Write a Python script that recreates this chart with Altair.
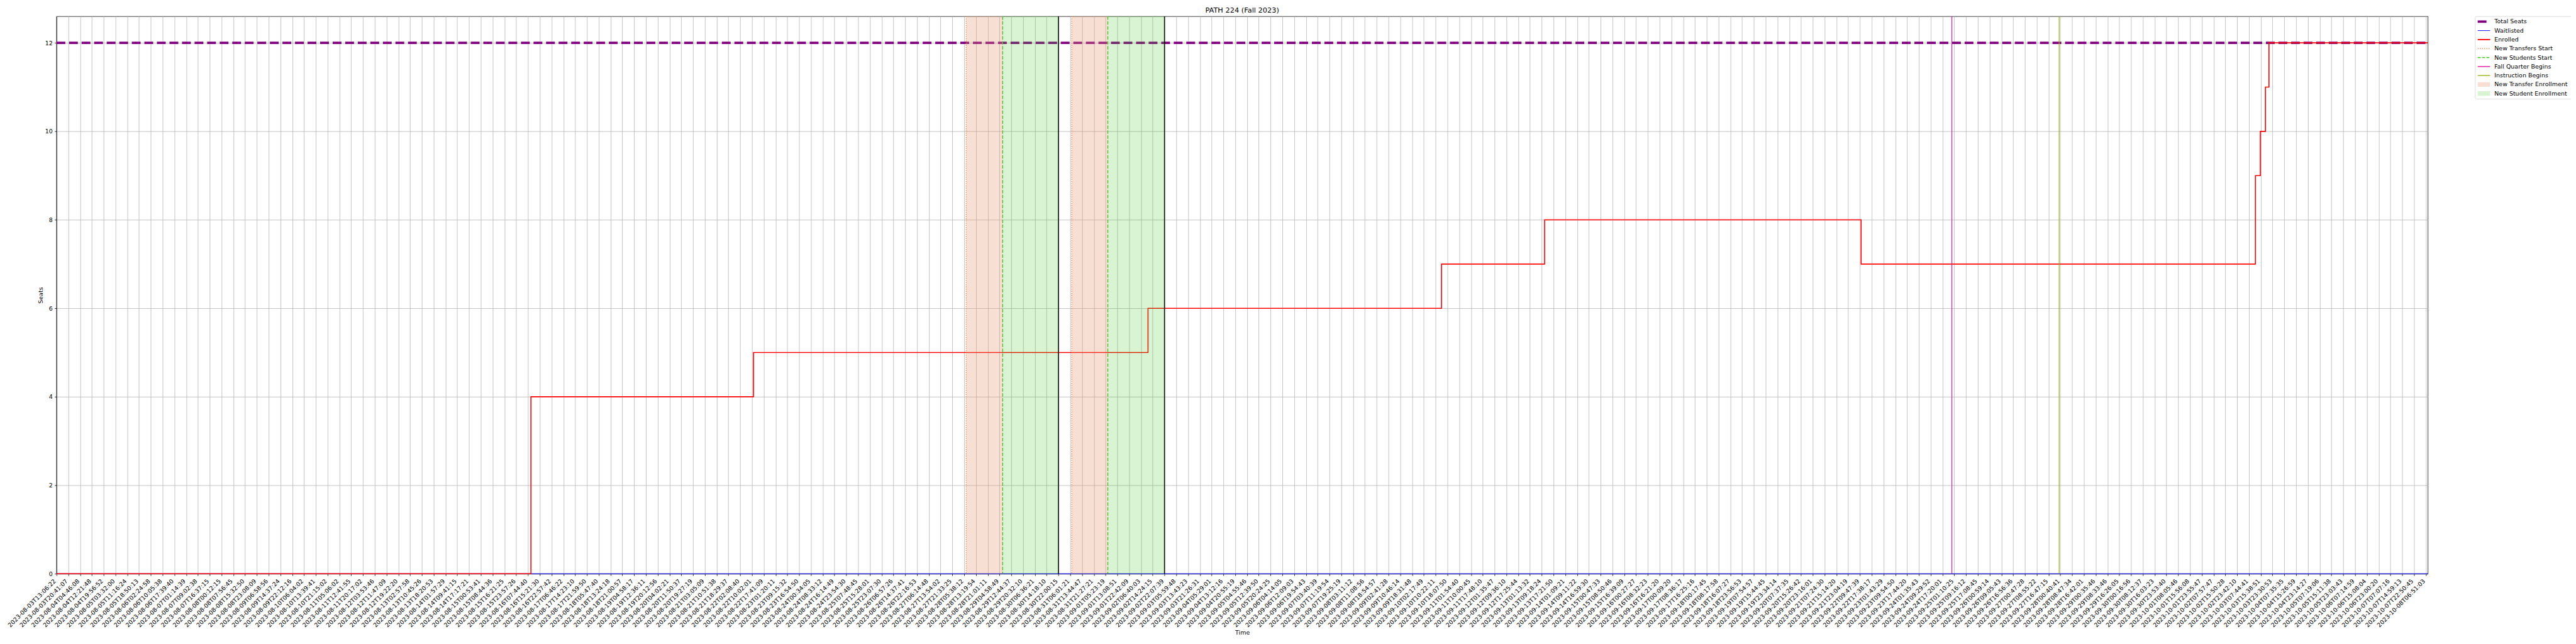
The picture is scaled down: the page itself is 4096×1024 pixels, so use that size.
import altair as alt
import pandas as pd

# ---------------- data ----------------
tick_labels = [
    "2023-08-03T13:06:22", "2023-08-03T20:41:07", "2023-08-04T04:46:08", "2023-08-04T12:21:48",
    "2023-08-04T19:56:52", "2023-08-05T03:32:00", "2023-08-05T11:16:24", "2023-08-05T18:50:13",
    "2023-08-06T02:24:58", "2023-08-06T10:05:38", "2023-08-06T17:39:40", "2023-08-07T01:14:39",
    "2023-08-07T09:02:38", "2023-08-07T16:37:15", "2023-08-08T00:12:15", "2023-08-08T07:56:45",
    "2023-08-08T15:32:50", "2023-08-08T23:08:09", "2023-08-09T06:58:56", "2023-08-09T14:37:24",
    "2023-08-09T22:12:16", "2023-08-10T06:04:02", "2023-08-10T13:39:41", "2023-08-10T21:15:02",
    "2023-08-11T05:06:02", "2023-08-11T12:41:55", "2023-08-11T20:17:02", "2023-08-12T03:53:46",
    "2023-08-12T11:47:09", "2023-08-12T19:22:20", "2023-08-13T02:57:58", "2023-08-13T10:45:26",
    "2023-08-13T18:20:53", "2023-08-14T01:57:29", "2023-08-14T09:41:15", "2023-08-14T17:17:21",
    "2023-08-15T00:53:41", "2023-08-15T08:44:36", "2023-08-15T16:21:25", "2023-08-15T23:57:26",
    "2023-08-16T07:44:40", "2023-08-16T15:21:30", "2023-08-16T22:57:42", "2023-08-17T06:46:22",
    "2023-08-17T14:23:10", "2023-08-17T21:59:50", "2023-08-18T05:47:40", "2023-08-18T13:24:18",
    "2023-08-18T21:00:57", "2023-08-19T04:58:17", "2023-08-19T12:36:11", "2023-08-19T20:12:56",
    "2023-08-20T04:02:21", "2023-08-20T11:50:37", "2023-08-20T19:27:19", "2023-08-21T03:05:09",
    "2023-08-21T10:51:38", "2023-08-21T18:29:37", "2023-08-22T02:08:40", "2023-08-22T10:02:01",
    "2023-08-22T17:41:09", "2023-08-23T01:20:11", "2023-08-23T09:15:32", "2023-08-23T16:54:50",
    "2023-08-24T00:34:05", "2023-08-24T08:33:12", "2023-08-24T16:14:49", "2023-08-24T23:54:30",
    "2023-08-25T07:48:45", "2023-08-25T15:28:01", "2023-08-25T23:07:30", "2023-08-26T06:57:26",
    "2023-08-26T14:37:41", "2023-08-26T22:16:53", "2023-08-27T06:14:48", "2023-08-27T13:54:02",
    "2023-08-27T21:33:25", "2023-08-28T05:38:12", "2023-08-28T13:19:54", "2023-08-28T21:01:11",
    "2023-08-29T04:58:49", "2023-08-29T12:44:37", "2023-08-29T20:32:10", "2023-08-30T06:36:21",
    "2023-08-30T14:18:10", "2023-08-30T22:00:15", "2023-08-31T06:01:21", "2023-08-31T13:44:47",
    "2023-08-31T21:27:21", "2023-09-01T05:23:19", "2023-09-01T13:08:51", "2023-09-01T22:42:09",
    "2023-09-02T06:40:03", "2023-09-02T14:24:15", "2023-09-02T22:07:39", "2023-09-03T05:59:48",
    "2023-09-03T13:43:23", "2023-09-03T21:26:31", "2023-09-04T05:29:01", "2023-09-04T13:12:16",
    "2023-09-04T20:55:19", "2023-09-05T04:55:46", "2023-09-05T12:39:50", "2023-09-05T20:24:25",
    "2023-09-06T04:14:05", "2023-09-06T12:09:03", "2023-09-06T19:54:43", "2023-09-07T03:40:39",
    "2023-09-07T11:19:54", "2023-09-07T19:25:19", "2023-09-08T03:11:12", "2023-09-08T11:08:56",
    "2023-09-08T18:54:57", "2023-09-09T02:41:28", "2023-09-09T10:46:14", "2023-09-09T18:31:48",
    "2023-09-10T02:17:49", "2023-09-10T10:22:11", "2023-09-10T18:07:50", "2023-09-11T01:54:40",
    "2023-09-11T10:00:45", "2023-09-11T17:48:10", "2023-09-12T01:35:47", "2023-09-12T09:36:10",
    "2023-09-12T17:25:44", "2023-09-13T01:13:32", "2023-09-13T09:18:24", "2023-09-13T17:21:50",
    "2023-09-14T01:09:21", "2023-09-14T09:11:22", "2023-09-14T16:59:30", "2023-09-15T00:47:33",
    "2023-09-15T08:50:46", "2023-09-15T16:39:09", "2023-09-16T00:27:27", "2023-09-16T08:32:23",
    "2023-09-16T16:21:20", "2023-09-17T00:09:20", "2023-09-17T08:36:17", "2023-09-17T16:25:16",
    "2023-09-18T00:17:45", "2023-09-18T08:17:58", "2023-09-18T16:07:27", "2023-09-18T23:56:53",
    "2023-09-19T07:54:57", "2023-09-19T15:44:45", "2023-09-19T23:34:14", "2023-09-20T07:37:35",
    "2023-09-20T15:26:42", "2023-09-20T23:16:01", "2023-09-21T07:24:30", "2023-09-21T15:14:20",
    "2023-09-21T23:04:19", "2023-09-22T09:47:39", "2023-09-22T17:38:17", "2023-09-23T01:43:29",
    "2023-09-23T09:54:50", "2023-09-23T17:44:20", "2023-09-24T01:35:43", "2023-09-24T09:29:52",
    "2023-09-24T17:20:01", "2023-09-25T01:10:25", "2023-09-25T09:16:12", "2023-09-25T17:08:45",
    "2023-09-26T00:59:14", "2023-09-26T09:05:43", "2023-09-26T16:56:36", "2023-09-27T00:47:28",
    "2023-09-27T08:55:22", "2023-09-27T16:47:15", "2023-09-28T00:40:41", "2023-09-28T08:47:34",
    "2023-09-28T16:42:01", "2023-09-29T00:35:46", "2023-09-29T08:33:46", "2023-09-29T16:26:05",
    "2023-09-30T00:16:56", "2023-09-30T08:12:37", "2023-09-30T16:03:23", "2023-09-30T23:53:40",
    "2023-10-01T08:05:46", "2023-10-01T15:56:08", "2023-10-01T23:55:47", "2023-10-02T07:57:47",
    "2023-10-02T15:50:28", "2023-10-02T23:42:10", "2023-10-03T07:44:41", "2023-10-03T15:38:51",
    "2023-10-03T23:30:53", "2023-10-04T07:35:35", "2023-10-04T15:26:59", "2023-10-04T23:14:27",
    "2023-10-05T07:19:06", "2023-10-05T15:11:38", "2023-10-05T23:03:43", "2023-10-06T07:14:59",
    "2023-10-06T15:08:04", "2023-10-06T23:00:20", "2023-10-07T07:07:16", "2023-10-07T14:59:13",
    "2023-10-07T22:50:45", "2023-10-08T06:51:03",
]

title_text = "PATH 224 (Fall 2023)"

# x positions are in units of tick index (ticks are evenly spaced samples)
x_last = 201.18
y_top = 12.6

total_x = [0, x_last]
total_y = [12, 12]
wait_x = [0, x_last]
wait_y = [0, 0]
enrolled_x = [0, 40.25, 59.13, 92.6, 117.5, 126.25, 153.1, 186.55, 186.97, 187.4, 187.7, x_last]
enrolled_y = [0, 4, 5, 6, 7, 8, 7, 9, 10, 11, 12, 12]

transfer_start_x = [77.17, 86.13]
student_start_x = [80.27, 89.19]
window_end_x = [85.0, 94.0]
fall_quarter_x = [160.8]
instruction_x = [169.9]

legend_labels = ["Total Seats", "Waitlisted", "Enrolled", "New Transfers Start",
                 "New Students Start", "Fall Quarter Begins", "Instruction Begins",
                 "New Transfer Enrollment", "New Student Enrollment"]

# ---------------- styling ----------------
FONT = "DejaVu Sans"
W, H = 3778, 888
ORANGE = "#e8702a"
GREEN = "#3cc81e"
MAGENTA = "#e0179f"
OLIVE = "#99b31a"
PEACH_FILL = "#e49470"
PEACH_OP = 0.3

label_expr = "[" + ",".join("'%s'" % s for s in tick_labels) + "][datum.value]"

xscale = alt.Scale(domain=[0, x_last], nice=False, zero=False)
yscale = alt.Scale(domain=[0, y_top], nice=False, zero=False)

xaxis = alt.Axis(values=list(range(len(tick_labels))), tickCount=1000, labelExpr=label_expr,
                 labelAngle=315, labelAlign="right", labelBaseline="middle", labelOverlap=False,
                 labelBound=False, labelFlush=False, labelPadding=6.7, labelOffset=-3,
                 tickSize=3.3, grid=True, title="Time", titlePadding=2)
yaxis = alt.Axis(values=[0, 2, 4, 6, 8, 10, 12], format="d", tickSize=3.3, labelPadding=3.3,
                 grid=True, title="Seats", titlePadding=2)


def X(field, axis=None):
    if axis is None:
        return alt.X(field + ":Q", scale=xscale, title="Time")
    return alt.X(field + ":Q", scale=xscale, axis=axis)


def Y(field, axis=None):
    if axis is None:
        return alt.Y(field + ":Q", scale=yscale, title="Seats")
    return alt.Y(field + ":Q", scale=yscale, axis=axis)


total_df = pd.DataFrame({"pos": total_x, "val": total_y})
wait_df = pd.DataFrame({"pos": wait_x, "val": wait_y})
enr_df = pd.DataFrame({"pos": enrolled_x, "val": enrolled_y})

total_line = alt.Chart(total_df).mark_line(color="purple", strokeWidth=3.8,
                                           strokeDash=[14, 6], clip=False).encode(
    x=X("pos", xaxis), y=Y("val", yaxis))
wait_line = alt.Chart(wait_df).mark_line(color="blue", strokeWidth=0.95).encode(
    x=X("pos"), y=Y("val"))
enr_line = alt.Chart(enr_df).mark_line(color="red", strokeWidth=1.6,
                                       interpolate="step-after").encode(
    x=X("pos"), y=Y("val"))


def vrule(xs, color, width, dash=None):
    kw = dict(color=color, strokeWidth=width)
    if dash:
        kw["strokeDash"] = dash
    return alt.Chart(pd.DataFrame({"pos": xs})).mark_rule(**kw).encode(x=X("pos"))


transfer_rules = vrule(transfer_start_x, ORANGE, 1.3, [1.3, 2.2])
student_rules = vrule(student_start_x, GREEN, 1.4, [5.5, 2.4])
end_rules = vrule(window_end_x, "black", 1.6)
fall_rule = vrule(fall_quarter_x, MAGENTA, 1.2)
instr_rule = vrule(instruction_x, OLIVE, 1.2)

transfer_span = alt.Chart(pd.DataFrame({"start": transfer_start_x, "end": student_start_x})).mark_rect(
    fill=PEACH_FILL, fillOpacity=PEACH_OP).encode(x=X("start"), x2="end:Q")
student_span = alt.Chart(pd.DataFrame({"start": student_start_x, "end": window_end_x})).mark_rect(
    fill=GREEN, fillOpacity=0.2).encode(x=X("start"), x2="end:Q")

# ---------------- title as text above the plot ----------------
title_mark = alt.Chart(pd.DataFrame({"t": [title_text]})).mark_text(
    font=FONT, fontSize=11.4, color="black", align="center", baseline="alphabetic").encode(
    x=alt.value(W / 2), y=alt.value(-5.8), text="t:N")

# ---------------- legend (outside the plot, right) ----------------
leg_df = pd.DataFrame({
    "label": legend_labels,
    "row": list(range(len(legend_labels))),
    "col": ["purple", "blue", "red", ORANGE, GREEN, MAGENTA, OLIVE, PEACH_FILL, GREEN],
    "op": [1, 1, 1, 1, 1, 1, 1, PEACH_OP, 0.2],
    "sw": [3.8, 0.95, 1.9, 1.3, 1.4, 1.4, 1.4, 0, 0],
    "kind": ["dash", "solid", "solid", "dot", "dashed", "solid", "solid", "rect", "rect"],
})
LX0, LX1, LTX = 3857.4, 3877.2, 3884
row_y = "8.4 + 14.32*datum.row"

leg_base = alt.Chart(leg_df).transform_calculate(py=row_y)
ypx = alt.Y("py:Q", scale=None, axis=None)

leg_box = alt.Chart(pd.DataFrame({"a": [0]})).mark_rect(
    fill="white", fillOpacity=0.8, stroke="#cccccc", strokeWidth=0.7, cornerRadius=2).encode(
    x=alt.value(3853.5), x2=alt.value(4040), y=alt.value(0.2), y2=alt.value(131.7))


def leg_rule(kind, dash=None):
    kw = {}
    if dash:
        kw["strokeDash"] = dash
    return leg_base.transform_filter(alt.datum.kind == kind).mark_rule(**kw).encode(
        x=alt.value(LX0), x2=alt.value(LX1), y=ypx,
        color=alt.Color("col:N", scale=None),
        strokeWidth=alt.StrokeWidth("sw:Q", scale=None))


leg_solid = leg_rule("solid")
leg_dash = leg_rule("dash", [14, 6])
leg_dot = leg_rule("dot", [1.3, 2.2])
leg_dashed = leg_rule("dashed", [4.8, 2.1])
leg_rect = leg_base.transform_filter(alt.datum.kind == "rect").transform_calculate(
    py0="datum.py - 3.65", py1="datum.py + 3.65").mark_rect().encode(
    x=alt.value(LX0), x2=alt.value(LX1),
    y=alt.Y("py0:Q", scale=None, axis=None), y2="py1:Q",
    fill=alt.Color("col:N", scale=None),
    fillOpacity=alt.FillOpacity("op:Q", scale=None))
leg_text = leg_base.mark_text(align="left", baseline="middle", font=FONT, fontSize=9.5,
                              color="black").encode(
    x=alt.value(LTX), y=ypx, text="label:N")

chart = alt.layer(
    total_line, wait_line, enr_line,
    transfer_rules, student_rules, end_rules, fall_rule, instr_rule,
    transfer_span, student_span,
    title_mark,
    leg_box, leg_solid, leg_dash, leg_dot, leg_dashed, leg_rect, leg_text,
).properties(
    width=W, height=H,
    autosize=alt.AutoSizeParams(type="none"),
    padding={"left": 82, "top": 17, "right": 228, "bottom": 111},
).configure_view(
    stroke="black", strokeWidth=0.75
).configure_axis(
    domainColor="black", domainWidth=0.75, tickColor="black", tickWidth=0.75,
    gridColor="#b0b0b0", gridWidth=0.75, labelFont=FONT, labelFontSize=9.5,
    labelColor="black", titleFont=FONT, titleFontSize=9.5, titleFontWeight="normal",
    titleColor="black",
)

chart.save("out.html", embed_options={"renderer": "svg", "actions": False})
